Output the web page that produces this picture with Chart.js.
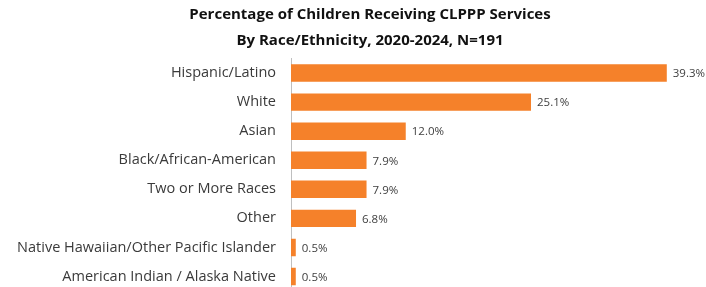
<!DOCTYPE html>
<html>
<head>
<meta charset="utf-8">
<script src="https://cdn.jsdelivr.net/npm/chart.js@4/dist/chart.umd.min.js"></script>
<style>
  html, body { margin: 0; padding: 0; background: #fff; overflow: hidden; }
  canvas { display: block; }
</style>
</head>
<body>
<canvas id="chart" width="706" height="291"></canvas>
<script>
// data
const categories = [
  'Hispanic/Latino',
  'White',
  'Asian',
  'Black/African-American',
  'Two or More Races',
  'Other',
  'Native Hawaiian/Other Pacific Islander',
  'American Indian / Alaska Native'
];
const percentages = [39.3, 25.1, 12.0, 7.9, 7.9, 6.8, 0.5, 0.5];
const titleLines = [
  'Percentage of Children Receiving CLPPP Services',
  'By Race/Ethnicity, 2020-2024, N=191'
];

const FONT = "'Open Sans', 'Liberation Sans', sans-serif";

// value labels at the end of each bar
const barLabels = {
  id: 'barLabels',
  afterDatasetsDraw(chart) {
    const ctx = chart.ctx;
    const meta = chart.getDatasetMeta(0);
    ctx.save();
    ctx.font = '11.5px ' + FONT;
    ctx.fillStyle = '#404040';
    ctx.textAlign = 'left';
    ctx.textBaseline = 'middle';
    meta.data.forEach(function (bar, i) {
      ctx.fillText(percentages[i].toFixed(1) + '%', bar.x + 6, bar.y + 1);
    });
    ctx.restore();
  }
};

new Chart(document.getElementById('chart'), {
  type: 'bar',
  data: {
    labels: categories,
    datasets: [{
      data: percentages,
      backgroundColor: '#F5812A',
      borderWidth: 0,
      barPercentage: 0.6,
      categoryPercentage: 1.0
    }]
  },
  options: {
    indexAxis: 'y',
    responsive: false,
    animation: false,
    // negative right padding keeps the title centred where the original sits
    layout: { padding: { left: 10, right: -24, top: 0, bottom: 0 } },
    plugins: {
      legend: { display: false },
      tooltip: { enabled: false },
      title: {
        display: true,
        text: titleLines,
        color: '#111',
        font: { family: FONT, size: 15, weight: 'bold', lineHeight: 1.7 },
        padding: { top: 2, bottom: 5.5 }
      }
    },
    scales: {
      x: {
        display: false,
        min: 0,
        max: 43.4
      },
      y: {
        grid: { display: false, drawTicks: false },
        border: { display: true, color: '#BFBFBF', width: 1 },
        ticks: {
          color: '#3A3A3A',
          padding: 15,
          font: { family: FONT, size: 14.5 }
        },
        afterFit(scale) {
          scale.width = 281;
          scale.paddingTop = 0;
          scale.paddingBottom = 0;
        }
      }
    }
  },
  plugins: [barLabels]
});
</script>
</body>
</html>
